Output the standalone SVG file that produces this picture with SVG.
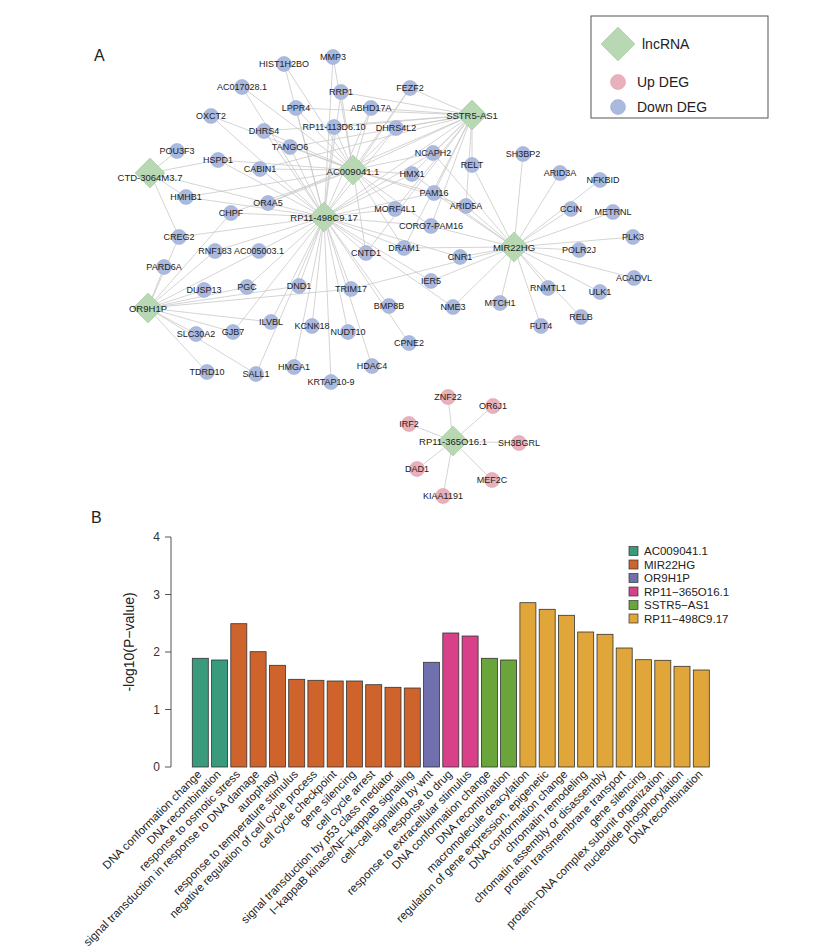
<svg xmlns="http://www.w3.org/2000/svg" width="819" height="949" viewBox="0 0 819 949">
<style>
text{font-family:"Liberation Sans",Arial,sans-serif;fill:#222}
.e{stroke:#c9c9c9;stroke-width:0.8;fill:none}
.dn circle,.dn{fill:#aab9dd;stroke:#9eaed4;stroke-width:0.6}
.up{fill:#e8b0ba;stroke:#dba0ab;stroke-width:0.6}
.lnc{fill:#b7d8b3;stroke:#a4c9a0;stroke-width:0.6}
.lb{font-size:9px;text-anchor:middle;dominant-baseline:central}
.hl{font-size:9.5px;text-anchor:middle;dominant-baseline:central}
.bar{stroke:#333;stroke-width:0.8}
.tk{stroke:#555;stroke-width:1}
.xl{font-size:11.5px;text-anchor:end}
.yl{font-size:12px;text-anchor:end;dominant-baseline:central;fill:#333}
.lg{font-size:11.5px;dominant-baseline:central}
</style>
<defs>
<path id="dm" d="M0 -15L15 0L0 15L-15 0Z"/>
</defs>
<rect width="819" height="949" fill="#fff"/>
<text x="94" y="61" font-size="16">A</text>
<text x="91" y="523" font-size="16">B</text>

<g id="edges">
<path class="e" d="M324 217L284 64M324 217L242 87M324 217L211 116M324 217L296 108M324 217L264 131M324 217L290 147M324 217L218 160M324 217L260 169M324 217L186 197M324 217L268 203M324 217L231 213M324 217L179 237M324 217L215 251M324 217L259 251M324 217L247 287M324 217L299 286M324 217L271 322M324 217L312 326M324 217L233 332M324 217L256 374M324 217L294 367M324 217L331 382M324 217L348 332M324 217L351 289M324 217L372 366M324 217L409 343M324 217L389 306M324 217L366 253M324 217L404 248M324 217L395 209M324 217L431 226M324 217L434 193M324 217L412 174M324 217L433 153M324 217L431 281M324 217L453 307M324 217L460 257M324 217L341 92M324 217L333 57M324 217L334 127M324 217L371 108M324 217L396 128M324 217L410 88"/>
<path class="e" d="M353 170L296 108M353 170L341 92M353 170L333 57M353 170L334 127M353 170L371 108M353 170L396 128M353 170L264 131M353 170L290 147M353 170L260 169M353 170L268 203M353 170L412 174M353 170L433 153M353 170L434 193M353 170L395 209M353 170L431 226M353 170L366 253M353 170L404 248M353 170L231 213M353 170L186 197M353 170L218 160M353 170L466 206M353 170L410 88M353 170L242 87M353 170L211 116M353 170L284 64"/>
<path class="e" d="M472 115L341 92M472 115L410 88M472 115L371 108M472 115L396 128M472 115L334 127M472 115L296 108M472 115L264 131M472 115L290 147M472 115L412 174M472 115L433 153M472 115L434 193M472 115L395 209M472 115L431 226M472 115L366 253M472 115L268 203M472 115L260 169M472 115L404 248M472 115L466 206M472 115L472 165M472 115L353 170M472 115L324 217"/>
<path class="e" d="M514 247L523 154M514 247L560 173M514 247L600 180M514 247L571 209M514 247L613 212M514 247L633 237M514 247L579 250M514 247L634 278M514 247L600 292M514 247L581 317M514 247L548 288M514 247L541 326M514 247L500 303M514 247L453 307M514 247L431 281M514 247L460 257M514 247L404 248M514 247L431 226M514 247L466 206M514 247L472 165M514 247L434 193M514 247L351 289M514 247L412 174M514 247L433 153"/>
<path class="e" d="M148 308L164 267M148 308L179 237M148 308L215 251M148 308L231 213M148 308L204 290M148 308L247 287M148 308L259 251M148 308L351 289M148 308L271 322M148 308L196 334M148 308L233 332M148 308L207 372M148 308L256 374M148 308L299 286"/>
<path class="e" d="M150 173L177 151M150 173L186 197M150 173L179 237M150 173L218 160M150 173L268 203"/>
<path class="e" d="M453 441L448 397M453 441L493 406M453 441L409 424M453 441L519 443M453 441L417 469M453 441L492 480M453 441L443 496"/>
</g>

<g id="n-HIST1H2BO"><circle class="dn" cx="284" cy="64" r="7.5"/><text class="lb" x="284" y="64">HIST1H2BO</text></g>
<g id="n-MMP3"><circle class="dn" cx="333" cy="57" r="7.5"/><text class="lb" x="333" y="57">MMP3</text></g>
<g id="n-AC017028.1"><circle class="dn" cx="242" cy="87" r="7.5"/><text class="lb" x="242" y="87">AC017028.1</text></g>
<g id="n-RRP1"><circle class="dn" cx="341" cy="92" r="7.5"/><text class="lb" x="341" y="92">RRP1</text></g>
<g id="n-FEZF2"><circle class="dn" cx="410" cy="88" r="7.5"/><text class="lb" x="410" y="88">FEZF2</text></g>
<g id="n-LPPR4"><circle class="dn" cx="296" cy="108" r="7.5"/><text class="lb" x="296" y="108">LPPR4</text></g>
<g id="n-ABHD17A"><circle class="dn" cx="371" cy="108" r="7.5"/><text class="lb" x="371" y="108">ABHD17A</text></g>
<g id="n-OXCT2"><circle class="dn" cx="211" cy="116" r="7.5"/><text class="lb" x="211" y="116">OXCT2</text></g>
<g id="n-RP11-113D6.10"><circle class="dn" cx="334" cy="127" r="7.5"/><text class="lb" x="334" y="127">RP11-113D6.10</text></g>
<g id="n-DHRS4L2"><circle class="dn" cx="396" cy="128" r="7.5"/><text class="lb" x="396" y="128">DHRS4L2</text></g>
<g id="n-DHRS4"><circle class="dn" cx="264" cy="131" r="7.5"/><text class="lb" x="264" y="131">DHRS4</text></g>
<g id="n-TANGO6"><circle class="dn" cx="290" cy="147" r="7.5"/><text class="lb" x="290" y="147">TANGO6</text></g>
<g id="n-POU3F3"><circle class="dn" cx="177" cy="151" r="7.5"/><text class="lb" x="177" y="151">POU3F3</text></g>
<g id="n-NCAPH2"><circle class="dn" cx="433" cy="153" r="7.5"/><text class="lb" x="433" y="153">NCAPH2</text></g>
<g id="n-SH3BP2"><circle class="dn" cx="523" cy="154" r="7.5"/><text class="lb" x="523" y="154">SH3BP2</text></g>
<g id="n-HSPD1"><circle class="dn" cx="218" cy="160" r="7.5"/><text class="lb" x="218" y="160">HSPD1</text></g>
<g id="n-RELT"><circle class="dn" cx="472" cy="165" r="7.5"/><text class="lb" x="472" y="165">RELT</text></g>
<g id="n-CABIN1"><circle class="dn" cx="260" cy="169" r="7.5"/><text class="lb" x="260" y="169">CABIN1</text></g>
<g id="n-ARID3A"><circle class="dn" cx="560" cy="173" r="7.5"/><text class="lb" x="560" y="173">ARID3A</text></g>
<g id="n-HMX1"><circle class="dn" cx="412" cy="174" r="7.5"/><text class="lb" x="412" y="174">HMX1</text></g>
<g id="n-NFKBID"><circle class="dn" cx="600" cy="180" r="7.5"/><text class="lb" x="603" y="180">NFKBID</text></g>
<g id="n-PAM16"><circle class="dn" cx="434" cy="193" r="7.5"/><text class="lb" x="434" y="193">PAM16</text></g>
<g id="n-HMHB1"><circle class="dn" cx="186" cy="197" r="7.5"/><text class="lb" x="186" y="197">HMHB1</text></g>
<g id="n-OR4A5"><circle class="dn" cx="268" cy="203" r="7.5"/><text class="lb" x="268" y="203">OR4A5</text></g>
<g id="n-ARID5A"><circle class="dn" cx="466" cy="206" r="7.5"/><text class="lb" x="466" y="206">ARID5A</text></g>
<g id="n-MORF4L1"><circle class="dn" cx="395" cy="209" r="7.5"/><text class="lb" x="395" y="209">MORF4L1</text></g>
<g id="n-CCIN"><circle class="dn" cx="571" cy="209" r="7.5"/><text class="lb" x="571" y="209">CCIN</text></g>
<g id="n-METRNL"><circle class="dn" cx="613" cy="212" r="7.5"/><text class="lb" x="613" y="212">METRNL</text></g>
<g id="n-CHPF"><circle class="dn" cx="231" cy="213" r="7.5"/><text class="lb" x="231" y="213">CHPF</text></g>
<g id="n-CORO7-PAM16"><circle class="dn" cx="431" cy="226" r="7.5"/><text class="lb" x="431" y="226">CORO7-PAM16</text></g>
<g id="n-CREG2"><circle class="dn" cx="179" cy="237" r="7.5"/><text class="lb" x="179" y="237">CREG2</text></g>
<g id="n-PLK3"><circle class="dn" cx="633" cy="237" r="7.5"/><text class="lb" x="633" y="237">PLK3</text></g>
<g id="n-DRAM1"><circle class="dn" cx="404" cy="248" r="7.5"/><text class="lb" x="404" y="248">DRAM1</text></g>
<g id="n-POLR2J"><circle class="dn" cx="579" cy="250" r="7.5"/><text class="lb" x="579" y="250">POLR2J</text></g>
<g id="n-RNF183"><circle class="dn" cx="215" cy="251" r="7.5"/><text class="lb" x="215" y="251">RNF183</text></g>
<g id="n-AC005003.1"><circle class="dn" cx="259" cy="251" r="7.5"/><text class="lb" x="259" y="251">AC005003.1</text></g>
<g id="n-CNTD1"><circle class="dn" cx="366" cy="253" r="7.5"/><text class="lb" x="366" y="253">CNTD1</text></g>
<g id="n-CNR1"><circle class="dn" cx="460" cy="257" r="7.5"/><text class="lb" x="460" y="257">CNR1</text></g>
<g id="n-PARD6A"><circle class="dn" cx="164" cy="267" r="7.5"/><text class="lb" x="164" y="267">PARD6A</text></g>
<g id="n-ACADVL"><circle class="dn" cx="634" cy="278" r="7.5"/><text class="lb" x="634" y="278">ACADVL</text></g>
<g id="n-IER5"><circle class="dn" cx="431" cy="281" r="7.5"/><text class="lb" x="431" y="281">IER5</text></g>
<g id="n-DND1"><circle class="dn" cx="299" cy="286" r="7.5"/><text class="lb" x="299" y="286">DND1</text></g>
<g id="n-PGC"><circle class="dn" cx="247" cy="287" r="7.5"/><text class="lb" x="247" y="287">PGC</text></g>
<g id="n-RNMTL1"><circle class="dn" cx="548" cy="288" r="7.5"/><text class="lb" x="548" y="288">RNMTL1</text></g>
<g id="n-TRIM17"><circle class="dn" cx="351" cy="289" r="7.5"/><text class="lb" x="351" y="289">TRIM17</text></g>
<g id="n-DUSP13"><circle class="dn" cx="204" cy="290" r="7.5"/><text class="lb" x="204" y="290">DUSP13</text></g>
<g id="n-ULK1"><circle class="dn" cx="600" cy="292" r="7.5"/><text class="lb" x="600" y="292">ULK1</text></g>
<g id="n-MTCH1"><circle class="dn" cx="500" cy="303" r="7.5"/><text class="lb" x="500" y="303">MTCH1</text></g>
<g id="n-BMP8B"><circle class="dn" cx="389" cy="306" r="7.5"/><text class="lb" x="389" y="306">BMP8B</text></g>
<g id="n-NME3"><circle class="dn" cx="453" cy="307" r="7.5"/><text class="lb" x="453" y="307">NME3</text></g>
<g id="n-RELB"><circle class="dn" cx="581" cy="317" r="7.5"/><text class="lb" x="581" y="317">RELB</text></g>
<g id="n-ILVBL"><circle class="dn" cx="271" cy="322" r="7.5"/><text class="lb" x="271" y="322">ILVBL</text></g>
<g id="n-KCNK18"><circle class="dn" cx="312" cy="326" r="7.5"/><text class="lb" x="312" y="326">KCNK18</text></g>
<g id="n-FUT4"><circle class="dn" cx="541" cy="326" r="7.5"/><text class="lb" x="541" y="326">FUT4</text></g>
<g id="n-GJB7"><circle class="dn" cx="233" cy="332" r="7.5"/><text class="lb" x="233" y="332">GJB7</text></g>
<g id="n-NUDT10"><circle class="dn" cx="348" cy="332" r="7.5"/><text class="lb" x="348" y="332">NUDT10</text></g>
<g id="n-SLC30A2"><circle class="dn" cx="196" cy="334" r="7.5"/><text class="lb" x="196" y="334">SLC30A2</text></g>
<g id="n-CPNE2"><circle class="dn" cx="409" cy="343" r="7.5"/><text class="lb" x="409" y="343">CPNE2</text></g>
<g id="n-HDAC4"><circle class="dn" cx="372" cy="366" r="7.5"/><text class="lb" x="372" y="366">HDAC4</text></g>
<g id="n-HMGA1"><circle class="dn" cx="294" cy="367" r="7.5"/><text class="lb" x="294" y="367">HMGA1</text></g>
<g id="n-TDRD10"><circle class="dn" cx="207" cy="372" r="7.5"/><text class="lb" x="207" y="372">TDRD10</text></g>
<g id="n-SALL1"><circle class="dn" cx="256" cy="374" r="7.5"/><text class="lb" x="256" y="374">SALL1</text></g>
<g id="n-KRTAP10-9"><circle class="dn" cx="331" cy="382" r="7.5"/><text class="lb" x="331" y="382">KRTAP10-9</text></g>

<g id="n-ZNF22"><circle class="up" cx="448" cy="397" r="7.5"/><text class="lb" x="448" y="397">ZNF22</text></g>
<g id="n-OR6J1"><circle class="up" cx="493" cy="406" r="7.5"/><text class="lb" x="493" y="406">OR6J1</text></g>
<g id="n-IRF2"><circle class="up" cx="409" cy="424" r="7.5"/><text class="lb" x="409" y="424">IRF2</text></g>
<g id="n-SH3BGRL"><circle class="up" cx="519" cy="443" r="7.5"/><text class="lb" x="519" y="443">SH3BGRL</text></g>
<g id="n-DAD1"><circle class="up" cx="417" cy="469" r="7.5"/><text class="lb" x="417" y="469">DAD1</text></g>
<g id="n-MEF2C"><circle class="up" cx="492" cy="480" r="7.5"/><text class="lb" x="492" y="480">MEF2C</text></g>
<g id="n-KIAA1191"><circle class="up" cx="443" cy="496" r="7.5"/><text class="lb" x="443" y="496">KIAA1191</text></g>

<g id="l-CTD-3064M3.7"><use href="#dm" class="lnc" x="150" y="173"/><text class="hl" x="150" y="177">CTD-3064M3.7</text></g>
<g id="l-AC009041.1"><use href="#dm" class="lnc" x="353" y="170"/><text class="hl" x="353" y="171">AC009041.1</text></g>
<g id="l-SSTR5-AS1"><use href="#dm" class="lnc" x="472" y="115"/><text class="hl" x="472" y="115">SSTR5-AS1</text></g>
<g id="l-RP11-498C9.17"><use href="#dm" class="lnc" x="324" y="217"/><text class="hl" x="324" y="217">RP11-498C9.17</text></g>
<g id="l-OR9H1P"><use href="#dm" class="lnc" x="148" y="308"/><text class="hl" x="148" y="308">OR9H1P</text></g>
<g id="l-MIR22HG"><use href="#dm" class="lnc" x="514" y="247"/><text class="hl" x="514" y="247">MIR22HG</text></g>
<g id="l-RP11-365O16.1"><use href="#dm" class="lnc" x="453" y="441"/><text class="hl" x="453" y="441">RP11-365O16.1</text></g>

<g id="legendA">
<rect x="591" y="16" width="177" height="102" fill="#fff" stroke="#555" stroke-width="1"/>
<path class="lnc" d="M618 27L635 44L618 61L601 44Z"/>
<text x="642" y="44" font-size="14" dominant-baseline="central">lncRNA</text>
<circle class="up" cx="618" cy="82" r="7.5"/>
<text x="637" y="82" font-size="14" dominant-baseline="central">Up DEG</text>
<circle class="dn" cx="618" cy="107" r="7.5"/>
<text x="637" y="107" font-size="14" dominant-baseline="central">Down DEG</text>
</g>

<g id="chartB">
<text transform="translate(129,642) rotate(-90)" font-size="14" text-anchor="middle" dominant-baseline="central">-log10(P−value)</text>
<path class="tk" d="M171 537V767M165 537H171M165 594.5H171M165 652H171M165 709.5H171M165 767H171"/>
<text class="yl" x="160" y="537">4</text>
<text class="yl" x="160" y="594.5">3</text>
<text class="yl" x="160" y="652">2</text>
<text class="yl" x="160" y="709.5">1</text>
<text class="yl" x="160" y="767">0</text>

<g id="bars">
<rect class="bar" fill="#3a9a7c" x="192.3" y="658.3" width="16" height="108.7"/>
<rect class="bar" fill="#3a9a7c" x="211.6" y="660" width="16" height="107"/>
<rect class="bar" fill="#cf632c" x="230.8" y="623.7" width="16" height="143.3"/>
<rect class="bar" fill="#cf632c" x="250.1" y="651.7" width="16" height="115.3"/>
<rect class="bar" fill="#cf632c" x="269.4" y="665.3" width="16" height="101.7"/>
<rect class="bar" fill="#cf632c" x="288.7" y="679.3" width="16" height="87.7"/>
<rect class="bar" fill="#cf632c" x="307.9" y="680.3" width="16" height="86.7"/>
<rect class="bar" fill="#cf632c" x="327.2" y="681" width="16" height="86"/>
<rect class="bar" fill="#cf632c" x="346.5" y="681" width="16" height="86"/>
<rect class="bar" fill="#cf632c" x="365.7" y="684.7" width="16" height="82.3"/>
<rect class="bar" fill="#cf632c" x="385" y="687.3" width="16" height="79.7"/>
<rect class="bar" fill="#cf632c" x="404.3" y="688" width="16" height="79"/>
<rect class="bar" fill="#7070ae" x="423.5" y="662.3" width="16" height="104.7"/>
<rect class="bar" fill="#d9408a" x="442.8" y="633" width="16" height="134"/>
<rect class="bar" fill="#d9408a" x="462.1" y="636" width="16" height="131"/>
<rect class="bar" fill="#6aa53b" x="481.4" y="658.3" width="16" height="108.7"/>
<rect class="bar" fill="#6aa53b" x="500.6" y="660" width="16" height="107"/>
<rect class="bar" fill="#e0a63a" x="519.9" y="602.7" width="16" height="164.3"/>
<rect class="bar" fill="#e0a63a" x="539.2" y="609.3" width="16" height="157.7"/>
<rect class="bar" fill="#e0a63a" x="558.4" y="615.3" width="16" height="151.7"/>
<rect class="bar" fill="#e0a63a" x="577.7" y="632" width="16" height="135"/>
<rect class="bar" fill="#e0a63a" x="597" y="634.3" width="16" height="132.7"/>
<rect class="bar" fill="#e0a63a" x="616.2" y="648" width="16" height="119"/>
<rect class="bar" fill="#e0a63a" x="635.5" y="659.7" width="16" height="107.3"/>
<rect class="bar" fill="#e0a63a" x="654.8" y="660.3" width="16" height="106.7"/>
<rect class="bar" fill="#e0a63a" x="674" y="666.3" width="16" height="100.7"/>
<rect class="bar" fill="#e0a63a" x="693.3" y="670" width="16" height="97"/>
</g>

<g id="xlabels">
<text class="xl" transform="translate(202.3,775) rotate(-45)">DNA conformation change</text>
<text class="xl" transform="translate(221.6,775) rotate(-45)">DNA recombination</text>
<text class="xl" transform="translate(240.8,775) rotate(-45)">response to osmotic stress</text>
<text class="xl" transform="translate(260.1,775) rotate(-45)">signal transduction in response to DNA damage</text>
<text class="xl" transform="translate(279.4,775) rotate(-45)">autophagy</text>
<text class="xl" transform="translate(298.7,775) rotate(-45)">response to temperature stimulus</text>
<text class="xl" transform="translate(317.9,775) rotate(-45)">negative regulation of cell cycle process</text>
<text class="xl" transform="translate(337.2,775) rotate(-45)">cell cycle checkpoint</text>
<text class="xl" transform="translate(356.5,775) rotate(-45)">gene silencing</text>
<text class="xl" transform="translate(375.7,775) rotate(-45)">cell cycle arrest</text>
<text class="xl" transform="translate(395,775) rotate(-45)">signal transduction by p53 class mediator</text>
<text class="xl" transform="translate(414.3,775) rotate(-45)">I−kappaB kinase/NF−kappaB signaling</text>
<text class="xl" transform="translate(433.5,775) rotate(-45)">cell−cell signaling by wnt</text>
<text class="xl" transform="translate(452.8,775) rotate(-45)">response to drug</text>
<text class="xl" transform="translate(472.1,775) rotate(-45)">response to extracellular stimulus</text>
<text class="xl" transform="translate(491.4,775) rotate(-45)">DNA conformation change</text>
<text class="xl" transform="translate(510.6,775) rotate(-45)">DNA recombination</text>
<text class="xl" transform="translate(529.9,775) rotate(-45)">macromolecule deacylation</text>
<text class="xl" transform="translate(549.2,775) rotate(-45)">regulation of gene expression, epigenetic</text>
<text class="xl" transform="translate(568.4,775) rotate(-45)">DNA conformation change</text>
<text class="xl" transform="translate(587.7,775) rotate(-45)">chromatin remodeling</text>
<text class="xl" transform="translate(607,775) rotate(-45)">chromatin assembly or disassembly</text>
<text class="xl" transform="translate(626.2,775) rotate(-45)">protein transmembrane transport</text>
<text class="xl" transform="translate(645.5,775) rotate(-45)">gene silencing</text>
<text class="xl" transform="translate(664.8,775) rotate(-45)">protein−DNA complex subunit organization</text>
<text class="xl" transform="translate(684,775) rotate(-45)">nucleotide phosphorylation</text>
<text class="xl" transform="translate(703.3,775) rotate(-45)">DNA recombination</text>
</g>

<g id="legendB">
<rect x="629" y="546.5" width="9" height="9" fill="#3a9a7c" stroke="#333" stroke-width="0.7"/>
<text class="lg" x="644" y="551">AC009041.1</text>
<rect x="629" y="560" width="9" height="9" fill="#cf632c" stroke="#333" stroke-width="0.7"/>
<text class="lg" x="644" y="564.5">MIR22HG</text>
<rect x="629" y="573.5" width="9" height="9" fill="#7070ae" stroke="#333" stroke-width="0.7"/>
<text class="lg" x="644" y="578">OR9H1P</text>
<rect x="629" y="587" width="9" height="9" fill="#d9408a" stroke="#333" stroke-width="0.7"/>
<text class="lg" x="644" y="591.5">RP11−365O16.1</text>
<rect x="629" y="600.5" width="9" height="9" fill="#6aa53b" stroke="#333" stroke-width="0.7"/>
<text class="lg" x="644" y="605">SSTR5−AS1</text>
<rect x="629" y="614" width="9" height="9" fill="#e0a63a" stroke="#333" stroke-width="0.7"/>
<text class="lg" x="644" y="618.5">RP11−498C9.17</text>
</g>
</g>
</svg>
